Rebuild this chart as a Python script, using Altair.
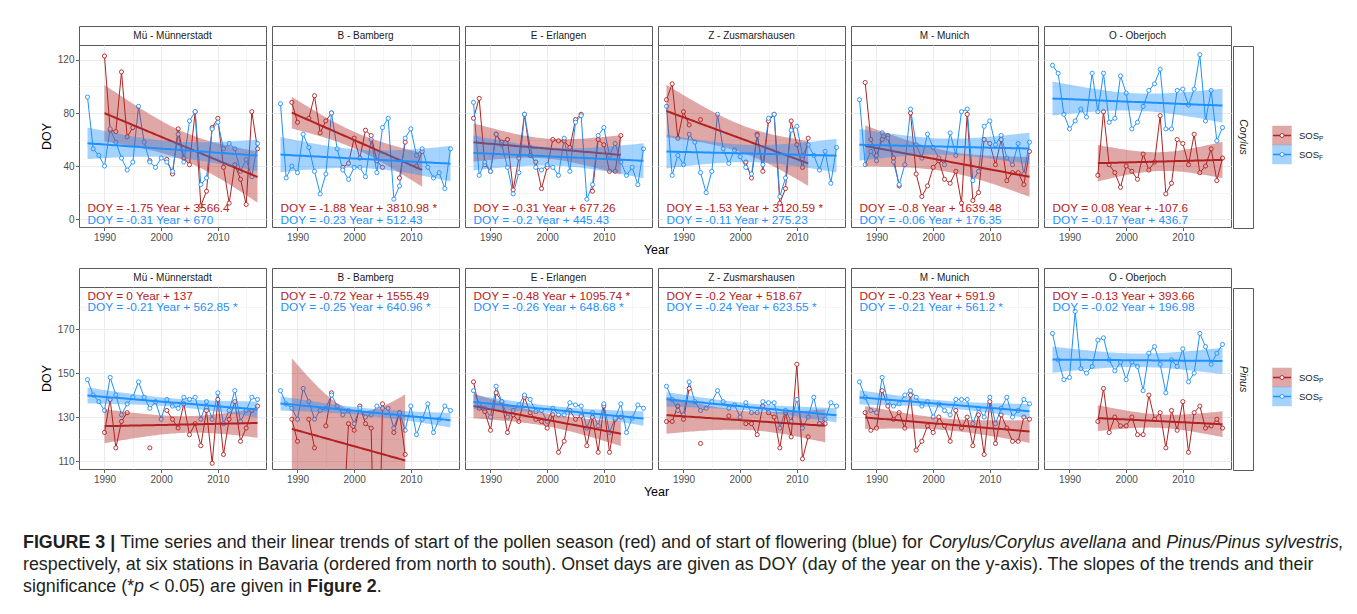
import numpy as np
import pandas as pd
import altair as alt

N = None
YEARS = list(range(1987, 2018))
STATIONS = ["Mü - Münnerstadt", "B - Bamberg", "E - Erlangen", "Z - Zusmarshausen", "M - Munich", "O - Oberjoch"]
GENERA = ["Corylus", "Pinus"]

# ---- Corylus: SOS_P (pollen, red) and SOS_F (flowering, blue), 1987..2017 ----
COR_MU_P = [N, N, N, 123, 67, 66, 111, 62, 69, N, N, 44, N, N, 45, 34, 68, 46, 41, 81, 10, 21, 69, 76, 39, 12, 41, 30, 11, 81, 53]
COR_MU_F = [92, 53, 48, 40, 68, 58, 46, 37, 43, 85, 58, 43, 39, 46, 43, 36, 64, 43, 74, 81, 26, 31, 68, 73, 53, 57, 53, 36, 45, 32, 57]
COR_B_P = [N, N, 88, 73, N, 76, 93, 65, 74, 80, N, 39, 42, 61, 46, 67, 63, 44, 39, N, N, 31, 58, N, 40, 51, N, N, N, N, N]
COR_B_F = [87, 31, 40, 35, 64, 54, 36, 19, 34, 80, 53, 37, 30, 39, 39, 32, 60, 35, 69, 76, 15, 25, 61, 68, 48, 53, 39, 31, 35, 23, 53]
COR_E_P = [76, 91, 41, 36, 64, 58, 60, 22, 46, 79, 48, 43, 23, 39, 60, 59, 59, 54, 75, 79, N, 21, 60, 56, 36, 36, 63, N, N, N, N]
COR_E_F = [88, 33, 43, 36, 64, 56, 39, 19, 35, 79, 54, 39, 37, 41, 39, 33, 61, 36, 73, 78, 15, 26, 63, 69, 48, 57, 43, 33, 39, 26, 53]
COR_Z_P = [90, 102, 61, 81, 71, N, 75, N, N, N, N, N, N, N, 43, 31, 64, 36, 74, 79, 12, 23, 74, 56, 39, 61, N, N, N, N, N]
COR_Z_F = [85, 33, 48, 41, 64, 58, 35, 20, 36, 79, 53, 42, 52, 47, 39, 34, 63, 41, 76, 79, 17, 31, 67, 70, 48, 56, 48, 37, 51, 27, 54]
COR_M_P = [N, 103, 60, 48, 60, 63, 46, 25, N, 80, 34, 17, 25, 39, 44, 30, 27, 36, 12, 79, 14, 20, 60, 57, 41, 60, 29, 35, 35, 26, 51]
COR_M_F = [90, 41, 51, 44, 65, 61, 43, 26, 41, 83, 56, 46, 64, 54, 46, 41, 65, 48, 81, 83, 29, 36, 70, 74, 56, 63, 46, 41, 57, 34, 58]
COR_O_P = [N, N, N, N, N, N, N, N, 33, 81, 41, 35, 24, 40, 36, 30, 49, 37, 43, 78, 19, 27, 60, 57, 41, 64, 35, 40, 53, 29, 46]
COR_O_F = [116, 110, 79, 68, 74, 83, 77, 110, 81, 110, 73, 76, 108, 95, 68, 73, 85, 97, 102, 113, 68, 68, 97, 98, 86, 98, 124, 74, 97, 59, 69]

# ---- Pinus ----
PIN_MU_P = [N, N, N, 123, 138, 116, 128, 132, N, N, N, 116, N, N, 133, 129, 125, 136, 122, 127, 117, 133, 109, 138, 113, 129, 137, 119, 125, 133, 135]
PIN_MU_F = [147, 140, 137, 133, 148, 140, 131, 136, 139, 146, 139, 134, 137, 129, 138, 135, 134, 139, 138, 139, 129, 137, 129, 141, 127, 133, 142, 128, 133, 139, 138]
PIN_B_P = [N, N, 129, 119, N, 129, 116, N, 126, 141, N, 77, 127, 124, 135, 127, 125, 12, 136, N, 123, 132, 113, N, N, N, N, N, N, N, N]
PIN_B_F = [142, 136, 134, 129, 143, 137, 129, 133, 134, 140, 135, 131, 133, 127, 134, 130, 131, 135, 134, 134, 125, 132, 124, 135, 122, 129, 136, 123, 129, 135, 133]
PIN_E_P = [146, 134, 132.5, 124, 141, 137, 123, 131, 128, 139, 132, 129, 128, 125, 131, 114, 119, 133, 129, 130.5, 117, 130, 114, 135, 114, 129, 130, N, N, N, N]
PIN_E_F = [142, 136, 134, 130, 144, 137, 130, 133, 135.5, 140, 138, 132.5, 133, 128, 134, 131, 131, 136.5, 135.5, 135, 125, 132, 126, 136, 123, 129.5, 136, 123, 129.5, 135.5, 134]
PIN_Z_P = [128, 128, 135, 129, 143, N, 118, N, N, N, N, 130.5, N, N, 127, 127, 122, 135, 132, 130, 116, 132, 121, 154, 111, 121, N, 127, 127, N, N]
PIN_Z_F = [144, 138, 133, 131, 146, 137, 133, 134, 137, 142, 137, 134, 135.5, 130, 136.5, 132, 132, 137, 136.5, 136.5, 125, 133, 128, 138, 125, 130, 139, 127, 129, 136.5, 135]
PIN_M_P = [N, 132, 124, 125, 142, 135, 129, 132, 125, 140, 115, 119, 126, 123, 130, 126, 119, 133, 125, 130, 117, 131, 113, 137, 118, 131, 125, 119, 119, 130, 129]
PIN_M_F = [146, 139, 133, 132, 148, 137, 135, 136, 140, 142, 139, 135, 137, 130, 136, 133, 131, 138, 138, 138, 127, 134, 130, 139, 127, 134, 139, 130, 133, 138, 136]
PIN_O_P = [N, N, N, N, N, N, N, N, 128, 143, 123, 130, 126, 126, 130, 122, 122, 140, 129, 132, 116, 133, 124, 137, 114, 132, 135, 125, 126, 129, 125]
PIN_O_F = [168, 156, 147, 148, 178, 152, 150, 153, 165, 166, 156, 151, 155, 147, 155, 153, 142, 159, 162, 154, 141, 156, 153, 161, 146, 150, 168, 162, 154, 159, 163]

EQ_COR_P = ["DOY = -1.75 Year + 3566.4", "DOY = -1.88 Year + 3810.98 *", "DOY = -0.31 Year + 677.26",
            "DOY = -1.53 Year + 3120.59 *", "DOY = -0.8 Year + 1639.48", "DOY = 0.08 Year + -107.6"]
EQ_COR_F = ["DOY = -0.31 Year + 670", "DOY = -0.23 Year + 512.43", "DOY = -0.2 Year + 445.43",
            "DOY = -0.11 Year + 275.23", "DOY = -0.06 Year + 176.35", "DOY = -0.17 Year + 436.7"]
EQ_PIN_P = ["DOY = 0 Year + 137", "DOY = -0.72 Year + 1555.49", "DOY = -0.48 Year + 1095.74 *",
            "DOY = -0.2 Year + 518.67", "DOY = -0.23 Year + 591.9", "DOY = -0.13 Year + 393.66"]
EQ_PIN_F = ["DOY = -0.21 Year + 562.85 *", "DOY = -0.25 Year + 640.96 *", "DOY = -0.26 Year + 648.68 *",
            "DOY = -0.24 Year + 623.55 *", "DOY = -0.21 Year + 561.2 *", "DOY = -0.02 Year + 196.98"]

ROWS = [
    dict(genus="Corylus", P=[COR_MU_P, COR_B_P, COR_E_P, COR_Z_P, COR_M_P, COR_O_P],
         F=[COR_MU_F, COR_B_F, COR_E_F, COR_Z_F, COR_M_F, COR_O_F], EP=EQ_COR_P, EF=EQ_COR_F,
         ydom=[-6.0, 131.3], yvals=[0, 20, 40, 60, 80, 100, 120], major="datum.value % 40 === 0",
         eqy=(8.0, -1.0)),
    dict(genus="Pinus", P=[PIN_MU_P, PIN_B_P, PIN_E_P, PIN_Z_P, PIN_M_P, PIN_O_P],
         F=[PIN_MU_F, PIN_B_F, PIN_E_F, PIN_Z_F, PIN_M_F, PIN_O_F], EP=EQ_PIN_P, EF=EQ_PIN_F,
         ydom=[106.4, 189.1], yvals=[110, 120, 130, 140, 150, 160, 170, 180], major="datum.value % 20 === 10",
         eqy=(185.2, 179.8)),
]

RED = "#B22222"
BLUE = "#1E90FF"
FONT = "Liberation Sans, Arial, sans-serif"
W, H, SH = 187, 182, 19
XDOM = [1985.5, 2018.5]
XVALS = [1990, 1995, 2000, 2005, 2010, 2015]
ORIGIN_X = 78  # page x of the first panel's plot area


def tq(df):
    z = 1.959964
    return (z + (z**3 + z) / (4 * df) + (5 * z**5 + 16 * z**3 + 3 * z) / (96 * df**2)
            + (3 * z**7 + 19 * z**5 + 17 * z**3 - 15 * z) / (384 * df**3))


def obs_frame(vals):
    rows, seg, prev = [], 0, False
    for yr, v in zip(YEARS, vals):
        if v is None:
            prev = False
            continue
        if not prev:
            seg += 1
        rows.append({"year": yr, "doy": v, "seg": seg})
        prev = True
    return pd.DataFrame(rows)


def fit_frame(obs):
    x = obs["year"].to_numpy(float)
    y = obs["doy"].to_numpy(float)
    n = len(x)
    xm = x.mean()
    sxx = ((x - xm) ** 2).sum()
    b = ((x - xm) * (y - y.mean())).sum() / sxx
    a = y.mean() - b * xm
    s = np.sqrt(((y - a - b * x) ** 2).sum() / (n - 2))
    g = np.linspace(x.min(), x.max(), 60)
    f = a + b * g
    se = s * np.sqrt(1.0 / n + (g - xm) ** 2 / sxx)
    t = tq(n - 2)
    return pd.DataFrame({"year": g, "fit": f, "lo": f - t * se, "hi": f + t * se})


def cond(test, a, b):
    return {"condition": {"test": test, "value": a}, "value": b}


def panel(r, i):
    R = ROWS[r]
    xs = alt.Scale(domain=XDOM, nice=False, zero=False)
    ys = alt.Scale(domain=R["ydom"], nice=False, zero=False)
    xax = alt.Axis(values=XVALS, format="d", title=None, labelExpr="datum.value % 10 === 0 ? datum.label : ''",
                   tickSize=3.5, tickWidth=0.8, labelPadding=1.5, domain=False,
                   tickOpacity=cond("datum.value % 10 === 0", 1, 0),
                   gridWidth=cond("datum.value % 10 === 0", 1.0, 0.5))
    if i == 0:
        yax = alt.Axis(values=R["yvals"], title="DOY", labelExpr=R["major"] + " ? datum.label : ''",
                       tickSize=3.5, tickWidth=0.8, labelPadding=1.5, domain=False, titlePadding=4,
                       tickOpacity=cond(R["major"], 1, 0), gridWidth=cond(R["major"], 1.0, 0.5))
    else:
        yax = alt.Axis(values=R["yvals"], title=None, labels=False, ticks=False, domain=False,
                       gridWidth=cond(R["major"], 1.0, 0.5))
    X = alt.X("year:Q", scale=xs, axis=xax)

    def Yf(f):
        return alt.Y(f + ":Q", scale=ys, axis=yax)

    oP, oF = obs_frame(R["P"][i]), obs_frame(R["F"][i])
    fP, fF = fit_frame(oP), fit_frame(oF)
    layers = []
    for o, c in ((oP, RED), (oF, BLUE)):
        layers.append(alt.Chart(o).mark_line(color=c, strokeWidth=1, clip=True).encode(X, Yf("doy"), detail="seg:N"))
    for o, c in ((oP, RED), (oF, BLUE)):
        layers.append(alt.Chart(o).mark_circle(size=17, fill="white", stroke=c, strokeWidth=0.9, opacity=1,
                                               clip=True).encode(X, Yf("doy")))
    for f, c in ((fP, RED), (fF, BLUE)):
        layers.append(alt.Chart(f).mark_area(color=c, opacity=0.4, clip=True).encode(X, Yf("lo"), y2="hi:Q"))
        layers.append(alt.Chart(f).mark_line(color=c, strokeWidth=2, clip=True).encode(X, Yf("fit")))
    eq = pd.DataFrame({"year": [1987, 1987], "doy": list(R["eqy"]), "t": [R["EP"][i], R["EF"][i]], "s": ["P", "F"]})
    layers.append(alt.Chart(eq).mark_text(align="left", baseline="middle", fontSize=11.8, font=FONT).encode(
        X, Yf("doy"), text="t:N",
        color=alt.Color("s:N", scale=alt.Scale(domain=["P", "F"], range=[RED, BLUE]), legend=None)))
    if i == 0:
        layers.append(alt.Chart(pd.DataFrame({"t": ["."]})).mark_text(opacity=0, align="left").encode(
            text="t:N", x=alt.value(22 - ORIGIN_X), y=alt.value(H / 2)))
    plot = alt.layer(*layers).properties(width=W, height=H)
    strip = alt.Chart(pd.DataFrame({"t": [STATIONS[i]]})).mark_text(
        fontSize=10, color="#1A1A1A", font=FONT).encode(
        text="t:N", x=alt.value(W / 2), y=alt.value(SH / 2)).properties(width=W, height=SH)
    return alt.vconcat(strip, plot, spacing=0, bounds="flush")


NOSTROKE = alt.ViewBackground(strokeOpacity=0)


def right_col(r):
    spacer = alt.Chart(pd.DataFrame({"t": [""]})).mark_text().encode(
        text="t:N", x=alt.value(10), y=alt.value(SH / 2)).properties(width=20, height=SH, view=NOSTROKE)
    rstrip = alt.Chart(pd.DataFrame({"t": [ROWS[r]["genus"]]})).mark_text(
        angle=90, fontStyle="italic", fontSize=10.5, color="#1A1A1A", font=FONT).encode(
        text="t:N", x=alt.value(10), y=alt.value(H / 2)).properties(width=20, height=H)
    d = pd.DataFrame({"k": ["P", "F"], "lab": ["SOS", "SOS"], "sub": ["P", "F"]})
    ysc = alt.Y("k:N", scale=alt.Scale(type="point", domain=["P", "F"], range=[89.5, 108.5], padding=0), axis=None)
    csc = alt.Scale(domain=["P", "F"], range=[RED, BLUE])
    sq = alt.Chart(d).mark_square(size=380, opacity=0.4).encode(
        x=alt.value(28), y=ysc, color=alt.Color("k:N", scale=csc, legend=None))
    ln = alt.Chart(d).mark_rule(strokeWidth=1.5).encode(
        x=alt.value(19), x2=alt.value(37), y=ysc, color=alt.Color("k:N", scale=csc, legend=None))
    pt = alt.Chart(d).mark_circle(size=16, fill="white", strokeWidth=0.9, opacity=1).encode(
        x=alt.value(28), y=ysc, stroke=alt.Stroke("k:N", scale=csc, legend=None))
    tx = alt.Chart(d).mark_text(align="left", baseline="middle", fontSize=9.5, font=FONT, color="#1A1A1A").encode(
        x=alt.value(45), y=ysc, text="lab:N")
    sb = alt.Chart(d).mark_text(align="left", baseline="middle", fontSize=6.5, dy=3, font=FONT,
                                color="#1A1A1A").encode(x=alt.value(65), y=ysc, text="sub:N")
    legend = alt.layer(sq, ln, pt, tx, sb).properties(width=80, height=H, view=NOSTROKE)
    return alt.vconcat(spacer, alt.hconcat(rstrip, legend, spacing=0), spacing=0)


def row_chart(r):
    panels = alt.hconcat(*[panel(r, i) for i in range(6)], spacing=4.0)
    return alt.hconcat(panels, right_col(r), spacing=0)


# ---- caption text metrics (Arial / Liberation Sans widths per 1000 em) ----
REG = {' ': 278, "'": 191, '(': 333, ')': 333, '*': 389, ',': 278, '-': 333, '.': 278, '/': 278, '<': 584,
       '|': 260, ':': 278}
REG.update({c: 556 for c in "0123456789"})
REG.update(dict(zip("ABCDEFGHIJKLMNOPQRSTUVWXYZ",
                    [667, 667, 722, 722, 667, 611, 778, 722, 278, 500, 667, 556, 833, 722, 778, 667, 778, 722, 667,
                     611, 722, 667, 944, 667, 667, 611])))
REG.update(dict(zip("abcdefghijklmnopqrstuvwxyz",
                    [556, 556, 500, 556, 556, 278, 556, 556, 222, 222, 500, 222, 833, 556, 556, 556, 556, 333, 500,
                     278, 556, 500, 722, 500, 500, 500])))
BOLD = dict(REG)
BOLD.update({'|': 280})
BOLD.update(dict(zip("ABCDEFGHIJKLMNOPQRSTUVWXYZ",
                     [722, 722, 722, 722, 667, 611, 778, 722, 278, 556, 722, 611, 833, 722, 778, 667, 778, 722, 667,
                      611, 722, 667, 944, 667, 667, 611])))
BOLD.update(dict(zip("abcdefghijklmnopqrstuvwxyz",
                     [556, 611, 556, 611, 556, 333, 611, 611, 278, 278, 556, 278, 889, 611, 611, 611, 611, 389, 556,
                      333, 611, 556, 778, 556, 556, 500])))

CAPTION = [
    [("FIGURE 3 |", "b"), (" Time series and their linear trends of start of the pollen season (red) and of start of "
                          "flowering (blue) for ", "r"), ("Corylus/Corylus avellana", "i"), (" and ", "r"),
     ("Pinus/Pinus sylvestris,", "i")],
    [("respectively, at six stations in Bavaria (ordered from north to south). Onset days are given as DOY (day of "
      "the year on the y-axis). The slopes of the trends and their", "r")],
    [("significance (*", "r"), ("p", "i"), (" < 0.05) are given in ", "r"), ("Figure 2", "b"), (".", "r")],
]


def em(s, st):
    tab = BOLD if st == "b" else REG
    return sum(tab.get(c, 556) for c in s) / 1000.0


CAP_FS = 1293.0 / em(CAPTION[1][0][0], "r")


def bottom_chart(height, caption, year_y, cap_y0=0):
    layers = [alt.Chart(pd.DataFrame({"t": ["Year"]})).mark_text(
        fontSize=12.5, font=FONT, color="black", baseline="middle").encode(
        text="t:N", x=alt.value(655.5 - ORIGIN_X), y=alt.value(year_y))]
    if caption:
        for li, line in enumerate(CAPTION):
            x = 22.0 - ORIGIN_X
            for txt, st in line:
                lead = len(txt) - len(txt.lstrip(" "))
                x0 = x + em(" " * lead, "r") * CAP_FS
                kw = dict(align="left", baseline="middle", fontSize=CAP_FS, font=FONT, color="#231F20")
                if st == "b":
                    kw["fontWeight"] = "bold"
                if st == "i":
                    kw["fontStyle"] = "italic"
                layers.append(alt.Chart(pd.DataFrame({"t": [txt.strip(" ")]})).mark_text(**kw).encode(
                    text="t:N", x=alt.value(x0), y=alt.value(cap_y0 + 22 * li)))
                x += em(txt, st) * CAP_FS
    return alt.layer(*layers).properties(width=1150, height=height, view=NOSTROKE)


chart = alt.vconcat(
    row_chart(0), bottom_chart(24, False, 7), row_chart(1), bottom_chart(108, True, 7, 58), spacing=0
).properties(
    padding={"left": 14, "top": 17, "right": 0, "bottom": 0}
).configure_view(
    stroke="#5A5A5A", strokeWidth=1
).configure_axis(
    labelFont=FONT, titleFont=FONT, labelFontSize=10, labelColor="#4D4D4D", tickColor="#333333",
    gridColor="#EBEBEB", titleFontSize=12.5, titleFontWeight="normal", titleColor="black"
).configure_text(font=FONT)

chart.save("out.html", embed_options={"renderer": "svg", "actions": False})
